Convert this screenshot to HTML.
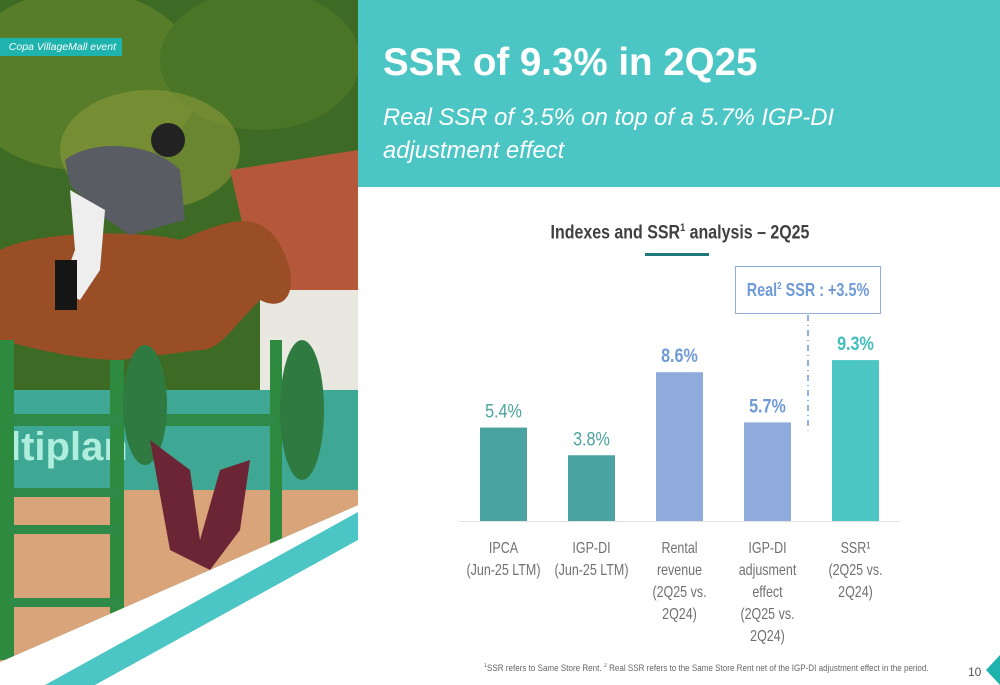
<!DOCTYPE html>
<html><head><meta charset="utf-8">
<style>
html,body{margin:0;padding:0;}
body{width:1000px;height:685px;position:relative;overflow:hidden;background:#fff;font-family:"Liberation Sans",sans-serif;}
.abs{position:absolute;}
#header{left:358px;top:0;width:642px;height:187px;background:#4bc6c4;}
#title{left:383px;top:41px;color:#fff;font-size:38.5px;font-weight:bold;white-space:nowrap;}
#subtitle{left:383px;top:101px;color:#fff;font-size:23.8px;font-style:italic;line-height:33px;}
#ctitle{left:460px;top:222px;width:440px;text-align:center;font-size:19px;font-weight:bold;color:#404040;transform:scaleX(0.84);transform-origin:220px 0;white-space:nowrap;}
#foot{left:484px;top:663px;font-size:9px;color:#666;white-space:nowrap;transform:scaleX(0.895);transform-origin:0 0;}
#pg{left:968px;top:665px;font-size:12px;color:#555;}
</style></head><body>
<svg class="abs" style="left:0;top:0" width="360" height="685">
<defs><clipPath id="cp"><polygon points="0,0 358,0 358,505 0,662"/></clipPath></defs>
<g clip-path="url(#cp)">
<rect width="358" height="685" fill="#3d6a25"/>
<ellipse cx="80" cy="80" rx="120" ry="90" fill="#587d2a"/>
<ellipse cx="260" cy="60" rx="100" ry="70" fill="#4a7526"/>
<ellipse cx="150" cy="150" rx="90" ry="60" fill="#8a9a3a" opacity=".6"/>
<polygon points="230,170 358,150 358,300 260,300" fill="#b4573a"/>
<rect x="260" y="290" width="98" height="100" fill="#e8e8e0"/>
<rect x="0" y="390" width="358" height="100" fill="#3fa894"/>
<text x="10" y="460" font-size="40" font-weight="bold" fill="#cfe" opacity=".8">ltiplan</text>
<rect x="0" y="490" width="358" height="200" fill="#d9a47a"/>
<path d="M0,250 C40,230 140,230 180,240 C230,220 270,200 290,270 C295,300 280,310 260,300 C230,330 220,350 200,350 L120,360 C80,360 40,350 0,340 Z" fill="#9a4e25"/>
<path d="M65,160 C90,140 150,140 180,170 L185,220 L130,235 L100,215 L70,185 Z" fill="#5a5c63"/>
<circle cx="168" cy="140" r="17" fill="#222"/>
<path d="M70,190 L105,210 L100,270 L80,300 L60,290 L75,250 Z" fill="#eee"/>
<rect x="55" y="260" width="22" height="50" fill="#151515"/>
<rect x="0" y="340" width="14" height="320" fill="#2d8a3e"/>
<rect x="110" y="360" width="14" height="260" fill="#2d8a3e"/>
<rect x="270" y="340" width="12" height="210" fill="#2d8a3e"/>
<rect x="10" y="414" width="265" height="12" fill="#2e8a46"/>
<rect x="10" y="488" width="110" height="9" fill="#2e8a46"/>
<rect x="10" y="525" width="110" height="9" fill="#2e8a46"/>
<rect x="10" y="598" width="110" height="9" fill="#2e8a46"/>
<ellipse cx="302" cy="410" rx="22" ry="70" fill="#2f7a40"/>
<ellipse cx="145" cy="405" rx="22" ry="60" fill="#2f7a40"/>
<path d="M150,440 L190,470 L200,540 L220,470 L250,460 L240,530 L210,570 L170,550 Z" fill="#6b2535"/>
</g>
<polygon points="358,512 358,540 95,685 45,685" fill="#4bc6c4"/>
</svg>
<div class="abs" style="left:0;top:38px;width:122px;height:18px;background:#1fb3ae;color:#fff;font-size:10.5px;font-style:italic;line-height:18px;text-align:right;box-sizing:border-box;padding-right:6px">Copa VillageMall event</div>
<div id="header" class="abs"></div>
<div id="title" class="abs">SSR of 9.3% in 2Q25</div>
<div id="subtitle" class="abs">Real SSR of 3.5% on top of a 5.7% IGP-DI<br>adjustment effect</div>
<div id="ctitle" class="abs">Indexes and SSR<sup style="font-size:11px">1</sup> analysis – 2Q25</div>
<div class="abs" style="left:645px;top:253px;width:64px;height:3px;background:#1e7a78"></div>
<div class="abs" style="left:735px;top:266px;width:146px;height:48px;border:1px solid #8fb0e0;box-sizing:border-box;"><div style="color:#6f9ad8;font-weight:bold;font-size:18px;line-height:46px;text-align:center;white-space:nowrap;transform:scaleX(0.8);margin:0 -30px">Real<sup style="font-size:10px;line-height:0">2</sup> SSR : +3.5%</div></div>
<svg id="chart" class="abs" style="left:0;top:0" width="1000" height="685"></svg>
<div id="foot" class="abs"><sup style="font-size:6px">1</sup>SSR refers to Same Store Rent. <sup style="font-size:6px">2</sup> Real SSR refers to the Same Store Rent net of the IGP-DI adjustment effect in the period.</div>
<div id="pg" class="abs">10</div>
<svg class="abs" style="left:986px;top:655px" width="14" height="30"><polygon points="14,0 14,30 0,15" fill="#1fb3ae"/></svg>
<script>
const categories=[["IPCA","(Jun-25 LTM)"],["IGP-DI","(Jun-25 LTM)"],["Rental","revenue","(2Q25 vs.","2Q24)"],["IGP-DI","adjusment","effect","(2Q25 vs.","2Q24)"],["SSR¹","(2Q25 vs.","2Q24)"]];
const values=[5.4,3.8,8.6,5.7,9.3];
const valueLabels=["5.4%","3.8%","8.6%","5.7%","9.3%"];
const colors=["#49a3a0","#49a3a0","#8eabdc","#8eabdc","#4bc6c4"];
const labelColors=["#49a3a0","#49a3a0","#6f9ad8","#6f9ad8","#3fbfbc"];
const svg=document.getElementById('chart');
const NS="http://www.w3.org/2000/svg";
const base=521, scale=17.3;
const y=v=>base-v*scale;
const x=i=>480+i*88;
const bw=47;
function mk(t,a){const e=document.createElementNS(NS,t);for(const k in a)e.setAttribute(k,a[k]);svg.appendChild(e);return e;}
function squeeze(t,f){const L=t.getComputedTextLength();t.setAttribute('textLength',L*f);t.setAttribute('lengthAdjust','spacingAndGlyphs');}
const ax=mk('line',{x1:459,x2:900,y1:base+0.5,y2:base+0.5,stroke:'#e3e3e3','stroke-width':1});


values.forEach((v,i)=>{
 const r=mk('rect',{x:x(i),y:y(v),width:bw,height:base-y(v),fill:colors[i]});
 
 
 const t=mk('text',{x:x(i)+bw/2,y:y(v)-10,'text-anchor':'middle','font-size':19,fill:labelColors[i],'font-weight':i>=2?'bold':'normal'});
 t.textContent=valueLabels[i];
 
 
 squeeze(t,0.85);
 categories[i].forEach((ln,j)=>{
  const c=mk('text',{x:x(i)+bw/2,y:553+j*22,'text-anchor':'middle','font-size':16,fill:'#707070'});
  c.textContent=ln;
  
  
  squeeze(c,0.78);
 });
});
const d=mk('line',{x1:808,x2:808,y1:315,y2:y(values[3])+8,stroke:'#6f9ad8','stroke-width':1.5,'stroke-dasharray':'6,4,1,4'});


</script>
</body></html>
